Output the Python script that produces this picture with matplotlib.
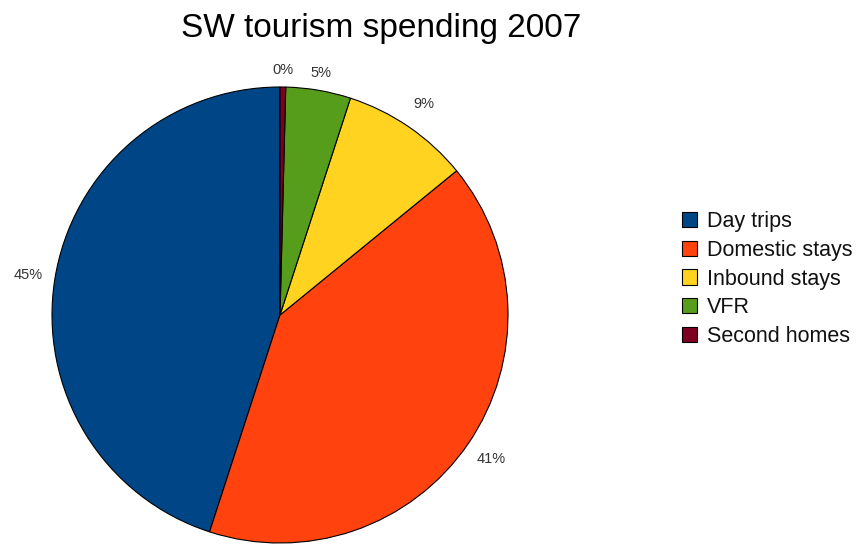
import matplotlib
matplotlib.use("Agg")
import matplotlib.pyplot as plt
from matplotlib.patches import Patch

plt.rcParams['font.family'] = ['Liberation Sans', 'DejaVu Sans']

categories = ["Day trips", "Domestic stays", "Inbound stays", "VFR", "Second homes"]
values = [45.0, 40.9, 9.1, 4.6, 0.4]
colors = ["#004586", "#ff420e", "#ffd320", "#579d1c", "#7e0021"]

W, H = 858, 545
fig = plt.figure(figsize=(W / 100, H / 100), dpi=100)
cx, cy, r = 280, 315, 228
ax = fig.add_axes([(cx - r) / W, (H - cy - r) / H, 2 * r / W, 2 * r / H])
wedges, texts, autotexts = ax.pie(
    values, colors=colors, startangle=90, counterclock=True,
    autopct='%.0f%%', pctdistance=1.12,
    wedgeprops=dict(edgecolor='black', linewidth=0.8),
    textprops=dict(fontsize=10.5, color='#333333'))
ax.set_xlim(-1, 1)
ax.set_ylim(-1, 1)
ax.set_aspect('equal')
ax.axis('off')
# small-slice labels sit a little closer to the rim in the original
for t in (autotexts[3], autotexts[4]):
    x, y = t.get_position()
    t.set_position((x * 0.96, y * 0.96))

fig.text(381 / W, 1 - 28 / H, "SW tourism spending 2007", ha='center', va='center',
         fontsize=24, color='black')

handles = [Patch(facecolor=c, edgecolor='black', linewidth=0.8) for c in colors]
fig.legend(handles, categories, loc='upper left', bbox_to_anchor=(682 / W, 1 - 211 / H),
           frameon=False, fontsize=15.5, handlelength=0.7, handleheight=0.7,
           handletextpad=0.45, labelspacing=0.36, borderaxespad=0, borderpad=0,
           labelcolor='#111111')

fig.savefig("out.png", dpi=100)
